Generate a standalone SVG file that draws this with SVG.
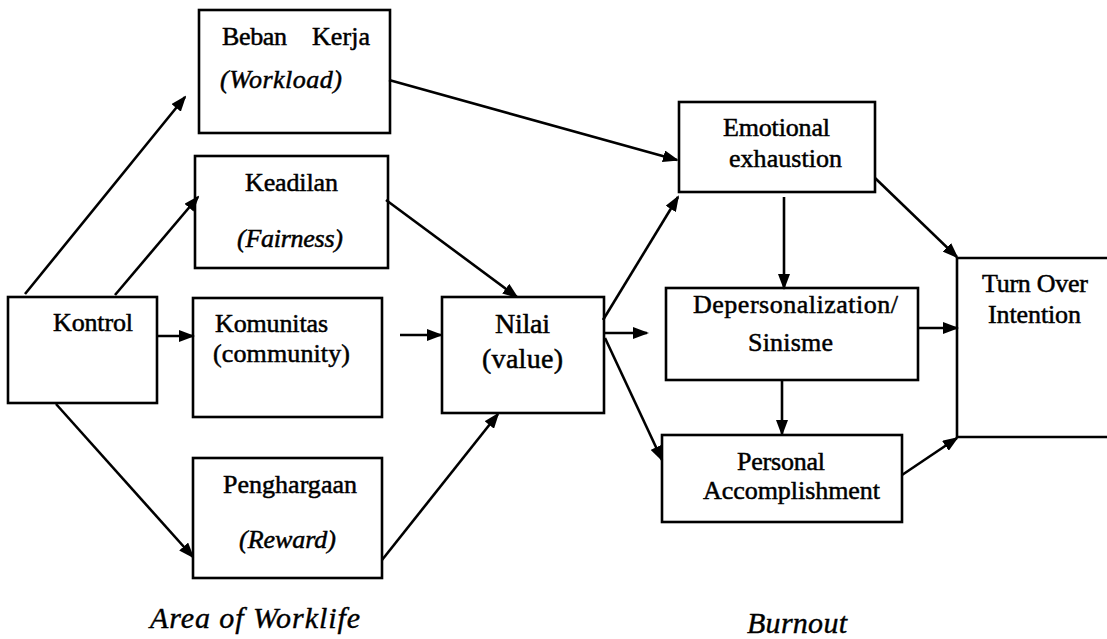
<svg xmlns="http://www.w3.org/2000/svg" width="1107" height="639" viewBox="0 0 1107 639">
  <style>
    .box { fill: #ffffff; stroke: #000000; stroke-width: 2.6; }
    text { font-family: 'Liberation Serif', 'Times New Roman', Times, serif; fill: #000000; }
    .lbl { font-size: 26px; stroke: #000000; stroke-width: 0.5; }
    .it { font-style: italic; }
    .big { font-size: 28px; }
    .cap { font-style: italic; font-size: 30px; stroke: #000000; stroke-width: 0.4; }
    .edge { fill: none; stroke: #000000; stroke-width: 2.6; marker-end: url(#arrow); }
  </style>
  <defs>
    <marker id="arrow" markerUnits="userSpaceOnUse" markerWidth="16" markerHeight="12" refX="14" refY="6" orient="auto">
      <path d="M0,0 L16,6 L0,12 Z" fill="#000000"/>
    </marker>
  </defs>
  <rect width="1107" height="639" fill="#ffffff"/>

  <!-- Area of worklife -->
  <g id="beban-kerja">
    <rect class="box" x="199" y="10" width="191" height="123"/>
    <text class="lbl" x="222" y="45" textLength="65">Beban</text>
    <text class="lbl" x="312" y="45" textLength="58">Kerja</text>
    <text class="lbl it" x="220" y="88" textLength="122">(Workload)</text>
  </g>
  <g id="keadilan">
    <rect class="box" x="195" y="156" width="193" height="112"/>
    <text class="lbl" x="245" y="191" textLength="93">Keadilan</text>
    <text class="lbl it" x="237" y="247" textLength="106">(Fairness)</text>
  </g>
  <g id="kontrol">
    <rect class="box" x="8" y="297" width="149" height="106"/>
    <text class="lbl" x="53" y="331" textLength="80">Kontrol</text>
  </g>
  <g id="komunitas">
    <rect class="box" x="193" y="298" width="189" height="119"/>
    <text class="lbl" x="215" y="332" textLength="113">Komunitas</text>
    <text class="lbl" x="213" y="362" textLength="137">(community)</text>
  </g>
  <g id="penghargaan">
    <rect class="box" x="193" y="458" width="189" height="120"/>
    <text class="lbl" x="223" y="493" textLength="134">Penghargaan</text>
    <text class="lbl it" x="239" y="548" textLength="97">(Reward)</text>
  </g>
  <g id="nilai">
    <rect class="box" x="442" y="297" width="162" height="116"/>
    <text class="lbl big" x="495" y="333" textLength="55">Nilai</text>
    <text class="lbl big" x="482" y="368" textLength="81">(value)</text>
  </g>

  <!-- Burnout -->
  <g id="emotional-exhaustion">
    <rect class="box" x="679" y="102" width="196" height="90"/>
    <text class="lbl" x="723" y="136" textLength="107">Emotional</text>
    <text class="lbl" x="729" y="167" textLength="113">exhaustion</text>
  </g>
  <g id="depersonalization">
    <rect class="box" x="666" y="288" width="252" height="92"/>
    <text class="lbl" x="693" y="313" textLength="205">Depersonalization/</text>
    <text class="lbl" x="748" y="351" textLength="85">Sinisme</text>
  </g>
  <g id="personal-accomplishment">
    <rect class="box" x="662" y="435" width="240" height="87"/>
    <text class="lbl" x="737" y="470" textLength="88">Personal</text>
    <text class="lbl" x="703" y="499" textLength="177">Accomplishment</text>
  </g>
  <g id="turn-over-intention">
    <path d="M1107,258 L957,258 L957,437 L1107,437" fill="none" stroke="#000000" stroke-width="2.6"/>
    <text class="lbl" x="982" y="292" textLength="106">Turn Over</text>
    <text class="lbl" x="988" y="323" textLength="93">Intention</text>
  </g>

  <g id="connectors">
    <line class="edge" x1="25" y1="294" x2="185" y2="97"/>
    <line class="edge" x1="115" y1="295" x2="198" y2="197"/>
    <line class="edge" x1="157" y1="336" x2="193" y2="336"/>
    <line class="edge" x1="56" y1="404" x2="193" y2="557"/>
    <line class="edge" x1="389" y1="80" x2="677" y2="160"/>
    <line class="edge" x1="386" y1="200" x2="517" y2="297"/>
    <line class="edge" x1="400" y1="335" x2="441" y2="335"/>
    <line class="edge" x1="382" y1="560" x2="498" y2="414"/>
    <line class="edge" x1="603" y1="320" x2="678" y2="197"/>
    <line class="edge" x1="605" y1="333" x2="647" y2="333"/>
    <line class="edge" x1="605" y1="338" x2="662" y2="460"/>
    <line class="edge" x1="784" y1="197" x2="784" y2="288"/>
    <line class="edge" x1="782" y1="380" x2="782" y2="434"/>
    <line class="edge" x1="875" y1="178" x2="957" y2="257"/>
    <line class="edge" x1="918" y1="328" x2="957" y2="328"/>
    <line class="edge" x1="902" y1="475" x2="957" y2="438"/>
  </g>

  <!-- section captions -->
  <text class="cap" x="150" y="628" textLength="210">Area of Worklife</text>
  <text class="cap" x="747" y="633" textLength="100">Burnout</text>
</svg>
